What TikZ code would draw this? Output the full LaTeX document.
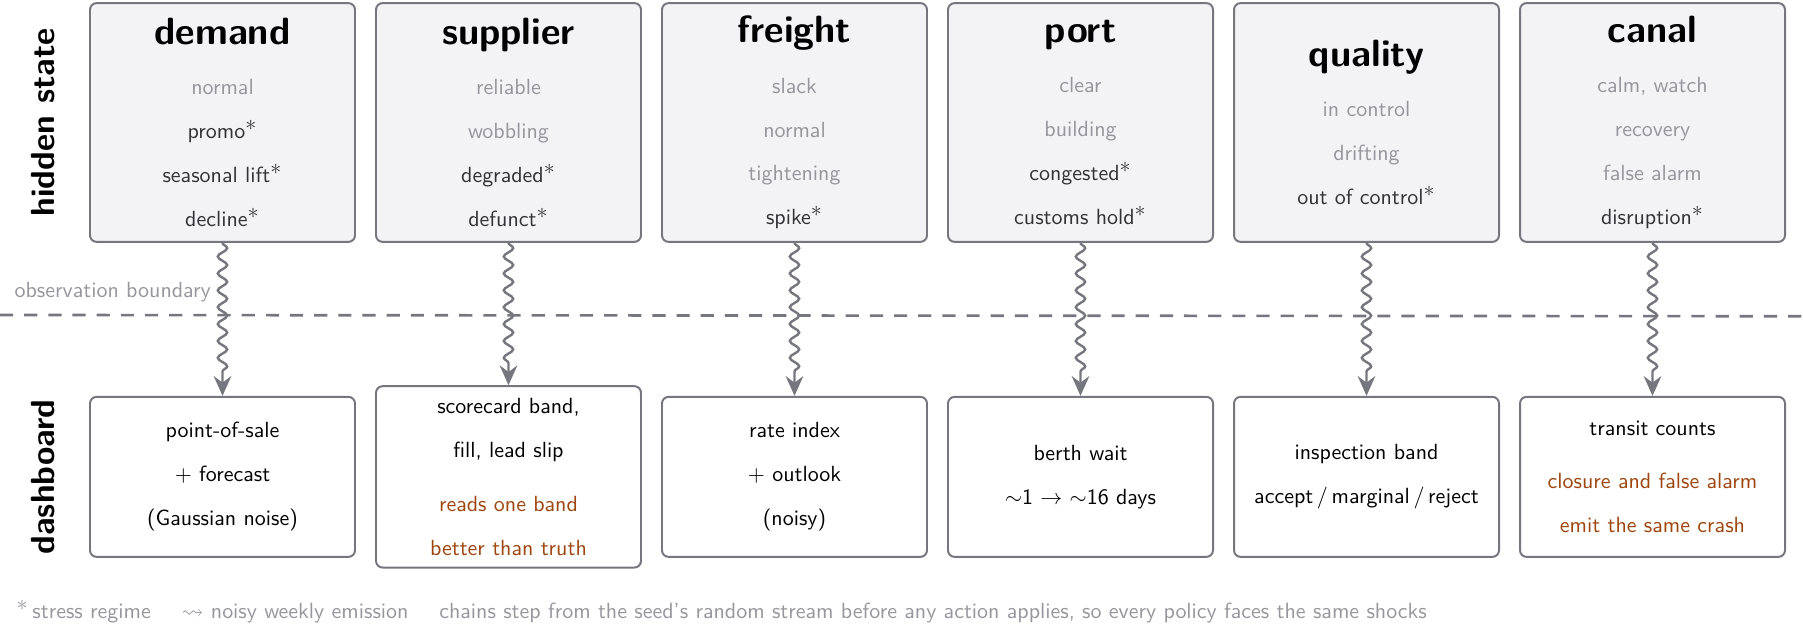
\documentclass[tikz,border=0pt]{standalone}
\usepackage{amsmath,amssymb}
\usepackage{xcolor}
\usepackage{tikz}
\usetikzlibrary{arrows.meta, positioning, calc, decorations.pathmorphing}
\renewcommand{\familydefault}{\sfdefault}
\definecolor{edge}{RGB}{118, 118, 126}
\definecolor{panel}{RGB}{243, 243, 246}
\definecolor{quiet}{RGB}{150, 150, 156}
\definecolor{hotgray}{RGB}{50, 50, 55}
\definecolor{rust}{RGB}{158, 70, 14}
\newcommand{\starmark}{$^{\textstyle\ast}$}
\newcommand{\calm}[1]{\textcolor{quiet}{#1}}
\newcommand{\hot}[1]{\textcolor{hotgray}{#1\starmark}}
\newcommand{\warn}[1]{\textcolor{rust}{#1}}
\newcommand{\chan}[1]{{\LARGE\bfseries #1}}

\begin{document}
\begin{tikzpicture}[
    >=Stealth,
    % Box Styles
    statebox/.style={rectangle, draw=edge, fill=panel, rounded corners=3pt, line width=0.9pt, align=center, minimum width=4.24cm, minimum height=3.82cm},
    dashbox/.style={rectangle, draw=edge, fill=white, rounded corners=3pt, line width=0.9pt, align=center, minimum width=4.24cm, minimum height=2.56cm, inner ysep=5.5pt},
    sidelbl/.style={rotate=90, anchor=base, font=\fontsize{15.2}{18}\selectfont\bfseries},
    % Line Styles
    emitarrow/.style={line width=1.1pt, color=edge, decorate, decoration={snake, amplitude=0.075cm, segment length=0.27cm, post length=0.32cm}, -{Stealth[length=9pt, width=8pt, inset=3pt]}},
    boundary/.style={line width=1.2pt, color=edge, dash pattern=on 6pt off 5pt},
    lbl/.style={font=\normalsize, text=quiet, inner sep=0pt}
]
    \useasboundingbox (0,0) rectangle (28.848,-10.0);

    % =========================================================================
    % 1. HIDDEN STATE ROW
    % =========================================================================
    \node (lbl_hidden) [sidelbl] at (0.87,-1.96) {hidden state};

    \node (st_demand) [statebox] at (3.56,-1.96) {\chan{demand}\\[11pt]
      \calm{normal}\\[8pt] \hot{promo}\\[8pt] \hot{seasonal lift}\\[8pt] \hot{decline}};
    \node (st_supplier) [statebox] at (8.136,-1.96) {\chan{supplier}\\[11pt]
      \calm{reliable}\\[8pt] \calm{wobbling}\\[8pt] \hot{degraded}\\[8pt] \hot{defunct}};
    \node (st_freight) [statebox] at (12.712,-1.96) {\chan{freight}\\[11pt]
      \calm{slack}\\[8pt] \calm{normal}\\[8pt] \calm{tightening}\\[8pt] \hot{spike}};
    \node (st_port) [statebox] at (17.288,-1.96) {\chan{port}\\[11pt]
      \calm{clear}\\[8pt] \calm{building}\\[8pt] \hot{congested}\\[8pt] \hot{customs hold}};
    \node (st_quality) [statebox] at (21.864,-1.96) {\chan{quality}\\[11pt]
      \calm{in control}\\[8pt] \calm{drifting}\\[8pt] \hot{out of control}};
    \node (st_canal) [statebox] at (26.44,-1.96) {\chan{canal}\\[11pt]
      \calm{calm, watch}\\[8pt] \calm{recovery}\\[8pt] \calm{false alarm}\\[8pt] \hot{disruption}};

    % =========================================================================
    % 2. OBSERVATION BOUNDARY
    % =========================================================================
    \coordinate (obs_l) at (0,-5.04);
    \coordinate (obs_r) at (28.848,-5.06);
    \draw[boundary] (obs_l) -- (obs_r);
    \node (obs_txt) [lbl, anchor=base east] at (3.38,-4.76) {observation boundary};

    % =========================================================================
    % 3. DASHBOARD ROW
    % =========================================================================
    \node (lbl_dash) [sidelbl] at (0.87,-7.63) {dashboard};

    \node (db_demand) [dashbox] at (3.56,-7.63) {point-of-sale\\[8pt] $+$ forecast\\[8pt] (Gaussian noise)};
    \node (db_supplier) [dashbox] at (8.136,-7.63) {scorecard band,\\[8pt] fill, lead slip\\[12.5pt]
      \warn{reads one band}\\[8pt] \warn{better than truth}};
    \node (db_freight) [dashbox] at (12.712,-7.63) {rate index\\[8pt] $+$ outlook\\[8pt] (noisy)};
    \node (db_port) [dashbox] at (17.288,-7.63) {berth wait\\[8pt] $\sim$1 $\rightarrow$ $\sim$16 days};
    \node (db_quality) [dashbox] at (21.864,-7.63) {inspection band\\[8pt] accept\,/\,marginal\,/\,reject};
    \node (db_canal) [dashbox] at (26.44,-7.63) {transit counts\\[12.5pt]
      \warn{closure and false alarm}\\[8pt] \warn{emit the same crash}};

    % =========================================================================
    % CONNECTIONS: NOISY WEEKLY EMISSION
    % =========================================================================
    \draw[emitarrow] (st_demand.south) -- (db_demand.north);
    \draw[emitarrow] (st_supplier.south) -- (db_supplier.north);
    \draw[emitarrow] (st_freight.south) -- (db_freight.north);
    \draw[emitarrow] (st_port.south) -- (db_port.north);
    \draw[emitarrow] (st_quality.south) -- (db_quality.north);
    \draw[emitarrow] (st_canal.south) -- (db_canal.north);

    % =========================================================================
    % LEGEND
    % =========================================================================
    \node (legend) [lbl, anchor=base west] at (0.26,-9.9) {\starmark\,stress regime\hspace{14pt}$\leadsto$ noisy weekly emission\hspace{14pt}chains step from the seed's random stream before any action applies, so every policy faces the same shocks};

\end{tikzpicture}
\end{document}
